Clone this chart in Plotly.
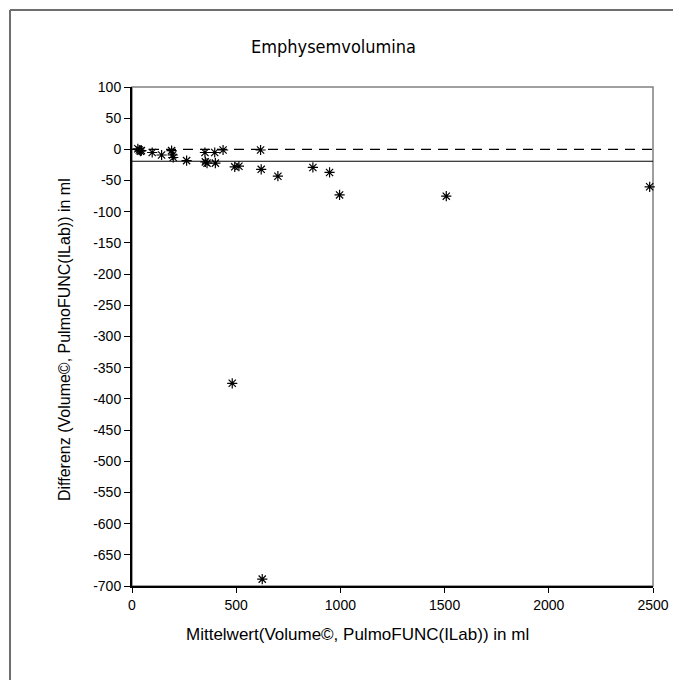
import plotly.graph_objects as go

# Data
mean_vals = [28, 35, 40, 45, 97, 142, 190, 195, 198, 262, 350, 352, 360, 397, 400, 437,
             493, 513, 617, 620, 700, 868, 948, 996, 1508, 2484, 481, 625]
diff_vals = [1, -1, -3, -2, -5, -9, -2, -9, -13, -18, -5, -20, -22, -5, -22, -1,
             -28, -27, -1, -32, -43, -29, -37, -73, -75, -60, -375, -689]
mean_diff = -19
y_ticks = list(range(100, -701, -50))
y_tick_text = [str(v) for v in y_ticks]
x_ticks = [0, 500, 1000, 1500, 2000, 2500]
x_tick_text = [str(v) for v in x_ticks]

FONT = "Liberation Sans, Arial, sans-serif"
NARROW = "DejaVu Sans Condensed, Liberation Sans Narrow, Liberation Sans, sans-serif"

fig = go.Figure()
fig.add_trace(go.Scatter(
    x=mean_vals, y=diff_vals, mode="markers",
    marker=dict(symbol="asterisk-open", size=8.5, color="black",
                line=dict(color="black", width=1.2)),
    showlegend=False, cliponaxis=False))

W, H = 673, 680
L, R, T, B = 132, 20, 87, 94
pw, ph = W - L - R, H - T - B

def px2paper_x(px):
    return (px - L) / pw

def px2paper_y(py):
    return (H - B - py) / ph

shapes = [
    # outer frame: left and top edges (right/bottom lie outside the picture)
    dict(type="line", xref="paper", yref="paper",
         x0=px2paper_x(10), x1=px2paper_x(10), y0=px2paper_y(H + 5), y1=px2paper_y(10),
         line=dict(color="#6e6e6e", width=2), layer="below"),
    dict(type="line", xref="paper", yref="paper",
         x0=px2paper_x(10), x1=px2paper_x(W + 5), y0=px2paper_y(10), y1=px2paper_y(10),
         line=dict(color="#6e6e6e", width=2), layer="below"),
    # plot area border (gray)
    dict(type="rect", xref="paper", yref="paper", x0=0, x1=1, y0=0, y1=1,
         line=dict(color="#808080", width=1.5), layer="below"),
    # zero line dashed
    dict(type="line", xref="paper", yref="y", x0=0, x1=1, y0=0, y1=0,
         line=dict(color="black", width=1.2, dash="10px,7px")),
    # mean difference line
    dict(type="line", xref="paper", yref="y", x0=0, x1=1, y0=mean_diff, y1=mean_diff,
         line=dict(color="black", width=1.2)),
]

annotations = [
    dict(text="Mittelwert(Volume©, PulmoFUNC(ILab)) in ml", xref="paper", yref="paper",
         x=px2paper_x(357), y=px2paper_y(634), xanchor="center", yanchor="middle",
         showarrow=False, font=dict(size=17, family=FONT)),
    dict(text="Differenz (Volume©, PulmoFUNC(ILab)) in ml", xref="paper", yref="paper",
         x=px2paper_x(64), y=px2paper_y(340), xanchor="center", yanchor="middle",
         textangle=-90, showarrow=False, font=dict(size=16, family=FONT)),
    dict(text="Emphysemvolumina", xref="paper", yref="paper",
         x=px2paper_x(333), y=px2paper_y(47), xanchor="center", yanchor="middle",
         showarrow=False, font=dict(size=18, family=NARROW)),
]

fig.update_layout(
    width=W, height=H,
    margin=dict(l=L, r=R, t=T, b=B, autoexpand=False),
    paper_bgcolor="white", plot_bgcolor="white",
    font=dict(family=FONT, color="black"),
    shapes=shapes,
    annotations=annotations,
    xaxis=dict(range=[0, 2500], tickvals=x_ticks, ticktext=x_tick_text,
               showgrid=False, zeroline=False, showline=True, linecolor="black",
               linewidth=2, ticks="outside", ticklen=5, tickcolor="black",
               automargin=False, tickfont=dict(size=14, family=FONT)),
    yaxis=dict(range=[-700, 100], tickvals=y_ticks, ticktext=y_tick_text,
               showgrid=False, zeroline=False, showline=True, linecolor="black",
               linewidth=2, ticks="outside", ticklen=6, tickcolor="black",
               automargin=False, tickfont=dict(size=14, family=FONT)),
)

fig.write_html("out.html")
